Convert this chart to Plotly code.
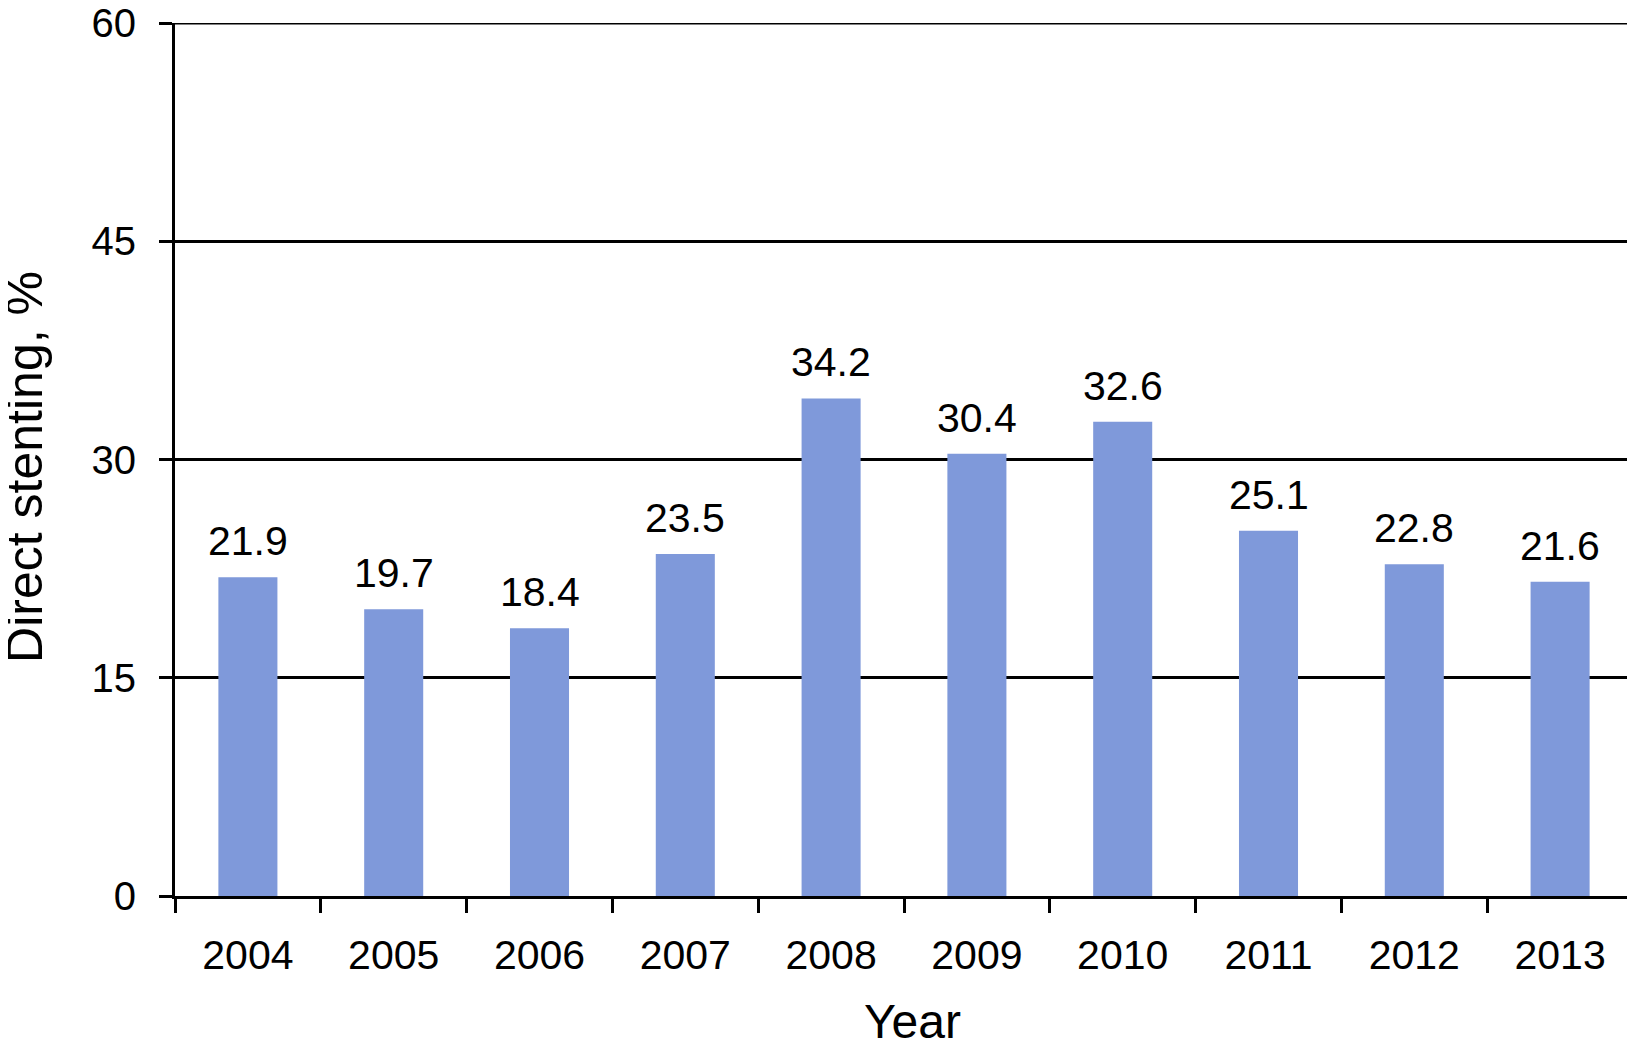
import plotly.graph_objects as go

years = ["2004", "2005", "2006", "2007", "2008", "2009", "2010", "2011", "2012", "2013"]
direct_stenting = [21.9, 19.7, 18.4, 23.5, 34.2, 30.4, 32.6, 25.1, 22.8, 21.6]
y_ticks = [0, 15, 30, 45, 60]
x_title = "Year"
y_title = "Direct stenting, %"

FONT = "Liberation Sans, Arial, Helvetica, sans-serif"

fig = go.Figure()
fig.add_trace(go.Bar(
    x=years,
    y=direct_stenting,
    width=0.405,
    marker=dict(color="#7f99da", line=dict(width=0)),
    hoverinfo="x+y",
))

for i, v in enumerate(direct_stenting):
    fig.add_annotation(
        x=i, y=v, xref="x", yref="y", text=f"{v:.1f}", showarrow=False,
        xanchor="center", yanchor="bottom", yshift=11,
        font=dict(family=FONT, size=41, color="black"),
    )

# axis titles
fig.add_annotation(
    text=y_title, xref="paper", yref="paper", x=-0.1026, y=0.492,
    xanchor="center", yanchor="middle", textangle=-90, showarrow=False,
    font=dict(family=FONT, size=50, color="black"),
)
fig.add_annotation(
    text=x_title, xref="paper", yref="paper", x=0.506, y=-0.1432,
    xanchor="center", yanchor="middle", showarrow=False,
    font=dict(family=FONT, size=48, color="black"),
)

# top gridline (plotly drops the grid line lying on the plot edge)
fig.add_shape(
    type="line", xref="paper", yref="y", x0=0, x1=1,
    y0=y_ticks[-1], y1=y_ticks[-1],
    line=dict(color="black", width=3), layer="below",
)

fig.update_layout(
    width=1627, height=1054,
    margin=dict(l=167, r=2, t=15, b=166, autoexpand=False),
    paper_bgcolor="white", plot_bgcolor="white",
    showlegend=False,
    font=dict(family=FONT, color="black"),
)

fig.update_xaxes(
    type="category",
    range=[-0.5, len(years) - 0.5],
    autorange=False,
    automargin=False,
    showline=True, linecolor="black", linewidth=3,
    ticks="outside", ticklen=14, tickwidth=3, tickcolor="black",
    tickson="boundaries",
    tickangle=0,
    tickfont=dict(family=FONT, size=41, color="black"),
    ticklabelstandoff=21,
    showgrid=False,
)
fig.update_yaxes(
    range=[0, 60],
    autorange=False,
    automargin=False,
    tickvals=y_ticks,
    ticktext=[str(t) for t in y_ticks],
    showline=True, linecolor="black", linewidth=3,
    ticks="outside", ticklen=13, tickwidth=3, tickcolor="black",
    tickfont=dict(family=FONT, size=40, color="black"),
    ticklabelstandoff=15,
    ticklabeloverflow="allow",
    showgrid=True, gridcolor="black", gridwidth=3,
    zeroline=False,
)

fig.write_html("out.html")
